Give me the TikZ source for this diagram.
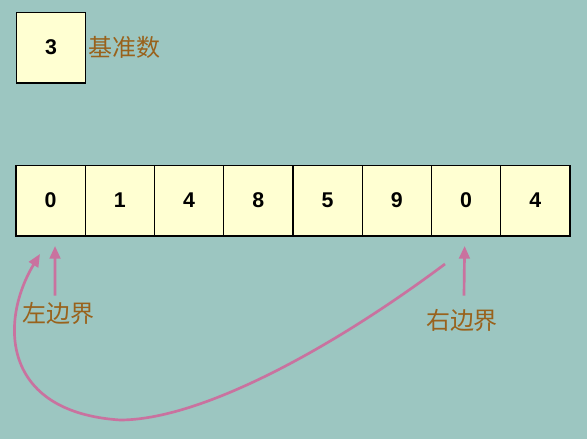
\documentclass[tikz,border=0pt]{standalone}
\usepackage{fontspec}
\setmainfont{Liberation Sans}
\newfontfamily\cjk{Noto Sans CJK SC}
\usetikzlibrary{positioning}
\usetikzlibrary{arrows.meta}
\usetikzlibrary{calc}
\usetikzlibrary{math}

\definecolor{bgteal}{HTML}{9CC6C1}
\definecolor{cellyellow}{HTML}{FFFFD2}
\definecolor{tagbrown}{HTML}{99621C}
\definecolor{arrowpink}{HTML}{C9729F}

\begin{document}
\begin{tikzpicture}[x=0.75pt,y=-0.75pt,
  cell/.style={draw=black, line width=0.8pt, fill=cellyellow,
    minimum width=51.9pt, minimum height=53.2pt, inner sep=0pt, outer sep=0pt,
    font=\fontsize{16}{19}\selectfont\bfseries},
  tag/.style={text=tagbrown, inner sep=0pt, font=\fontsize{18}{21}\selectfont\cjk},
  pointer/.style={draw=arrowpink, line width=2pt, -{Triangle[length=9.5pt,width=8pt]}}]

  \tikzmath{
    \cw    = 69.25; % width of one cell
    \rowy  = 200.5; % centre line of the array
    \rowx  = 16;    % left edge of the array
  }

  % background
  \fill[bgteal] (0,0) rectangle (587,439);
  \useasboundingbox (0,0) rectangle (587,439);

  % pivot
  \node[cell] (pivot) at (51,47.5) {3};
  \node[tag, right=2pt of pivot] (pivottag) {基准数};

  % array
  \foreach \v [count=\i from 0] in {0,1,4,8,5,9,0,4}
    \node[cell] (c\i) at ({\rowx+\cw*(\i+0.5)},\rowy) {\v};

  % bounds
  \node[tag] (ltag) at (58,313) {左边界};
  \node[tag] (rtag) at (462,320) {右边界};

  \coordinate (ltip) at ($(c0.south)+(4.4,10)$);
  \coordinate (rtip) at ($(c6.south)+(-1.5,10)$);
  \draw[pointer] ($(ltag.north)+(-3,-6)$) -- (ltip);
  \draw[pointer] ($(rtag.north)+(2,-13)$) -- (rtip);

  % swap curve
  \coordinate (cstart) at (445,264);
  \coordinate (cend) at (40,254);
  \draw[pointer] (cstart) .. controls (330,350) and (200,420) .. (120,420)
    .. controls (0,412) and (0,320) .. (cend);

\end{tikzpicture}
\end{document}
